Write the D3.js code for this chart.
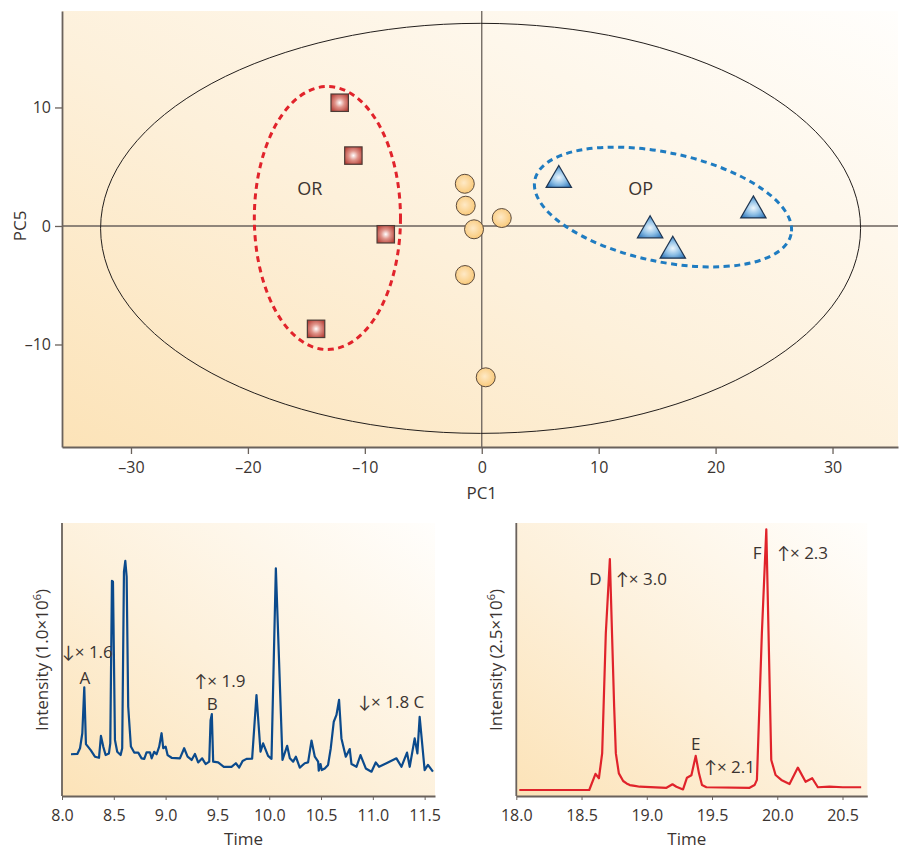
<!DOCTYPE html>
<html>
<head>
<meta charset="utf-8">
<script src="https://cdn.jsdelivr.net/npm/d3@7"></script>
<style>
  body { margin: 0; background: #fff; }
  svg text { font-family: "Open Sans", "Lato", sans-serif; fill: #3b3431; }
</style>
</head>
<body>
<script>
// Scores PCA (PC1, PC5)
const orPoints = [[-12.15, 10.4], [-10.98, 5.94], [-8.21, -0.70], [-14.17, -8.68]];
const qcPoints = [[-1.45, 3.56], [-1.37, 1.71], [-0.66, -0.28], [1.71, 0.67], [-1.43, -4.14], [0.34, -12.77]];
const opPoints = [[6.59, 4.18], [23.23, 1.61], [14.4, -0.07], [16.34, -1.79]];

// ellipses: centre, demi-axes (unités des données), rotation (degrés)
const bigEllipse = { cx: -0.1, cy: -0.2, rx: 32.5, ry: 17.3, angle: 0 };
const orEllipse = { cx: -13.2, cy: 0.67, rx: 6.25, ry: 11.1, angle: 0 };
const opEllipse = { cx: 15.5, cy: 1.6, rx: 11.2, ry: 4.6, angle: 12 };

const groupLabels = [{ text: 'OR', x: -14.7, y: 2.6 }, { text: 'OP', x: 13.6, y: 2.6 }];

const pcaXTicks = [-30, -20, -10, 0, 10, 20, 30];
const pcaYTicks = [-10, 0, 10];

// Chromatogramme 1 (temps, intensité relative)
const chromTime1 = [8.087, 8.148, 8.174, 8.196, 8.215, 8.231, 8.277, 8.318, 8.357, 8.376, 8.398, 8.421, 8.453, 8.466,
  8.482, 8.492, 8.511, 8.533, 8.566, 8.581, 8.598, 8.611, 8.624, 8.639, 8.665, 8.697, 8.736, 8.768, 8.794, 8.816,
  8.849, 8.865, 8.890, 8.913, 8.938, 8.961, 8.977, 9.000, 9.019, 9.058, 9.138, 9.179, 9.212, 9.251, 9.283, 9.314,
  9.353, 9.386, 9.421, 9.434, 9.446, 9.459, 9.507, 9.562, 9.636, 9.678, 9.710, 9.743, 9.781, 9.835, 9.877, 9.916,
  9.941, 9.989, 10.022, 10.064, 10.128, 10.173, 10.199, 10.231, 10.257, 10.295, 10.343, 10.375, 10.408, 10.440,
  10.472, 10.478, 10.495, 10.507, 10.536, 10.568, 10.594, 10.623, 10.649, 10.674, 10.697, 10.739, 10.777, 10.794,
  10.842, 10.881, 10.932, 10.987, 11.028, 11.060, 11.131, 11.228, 11.276, 11.330, 11.356, 11.404, 11.430, 11.452,
  11.500, 11.532, 11.580];
const chromInt1 = [15.3, 15.4, 17.5, 23.0, 39.8, 19.0, 16.8, 14.4, 14.0, 22.0, 18.1, 15.0, 15.6, 19.3,
  78.8, 78.5, 20.5, 16.2, 15.0, 17.5, 82.2, 86.1, 80.3, 32.7, 18.1, 15.9, 15.9, 13.8, 13.6, 16.0,
  16.0, 13.8, 16.2, 15.3, 18.1, 23.0, 17.5, 18.1, 15.0, 14.0, 13.8, 17.5, 14.4, 13.2, 15.4, 12.3,
  13.8, 11.7, 12.6, 27.8, 30.0, 12.6, 12.3, 10.7, 10.7, 12.0, 10.4, 12.8, 13.6, 13.7, 37.0, 16.2,
  19.3, 14.7, 13.6, 83.4, 13.2, 18.4, 13.8, 12.6, 14.4, 10.4, 12.0, 12.3, 20.3, 14.4,
  12.6, 9.3, 11.7, 9.5, 10.1, 11.4, 17.5, 27.2, 29.7, 35.2, 21.1, 14.4, 17.2, 11.7,
  10.7, 15.0, 10.1, 8.9, 12.3, 10.7, 12.0, 13.8, 10.7, 15.9, 10.7, 21.1, 15.6, 29.0,
  9.5, 11.4, 8.9];

// Chromatogramme 2
const chromTime2 = [18.023, 18.559, 18.607, 18.633, 18.658, 18.686, 18.717, 18.750, 18.763, 18.786, 18.819, 18.845,
  18.870, 18.908, 18.946, 19.151, 19.197, 19.227, 19.278, 19.308, 19.342, 19.375, 19.400, 19.423, 19.457, 19.788,
  19.826, 19.844, 19.882, 19.916, 19.954, 19.987, 20.031, 20.094, 20.158, 20.217, 20.268, 20.311, 20.400, 20.502, 20.643];
const chromInt2 = [2.2, 2.2, 8.1, 6.5, 15.6, 59.6, 86.8, 32.7, 15.6, 8.3, 5.5, 4.6,
  4.0, 3.7, 3.4, 3.0, 4.3, 3.4, 2.4, 6.7, 7.6, 14.7, 8.3, 4.0, 3.2, 3.0,
  4.0, 5.9, 59.6, 97.7, 13.2, 7.7, 5.9, 4.4, 10.4, 5.2, 6.5, 3.2, 3.4, 3.2, 3.2];

const chromXTicks1 = [8.0, 8.5, 9.0, 9.5, 10.0, 10.5, 11.0, 11.5];
const chromXTicks2 = [18.0, 18.5, 19.0, 19.5, 20.0, 20.5];

const peakLabels1 = [
  { text: '↓× 1.6', t: 8.0, v: 50.5, anchor: 'start' },
  { text: 'A', t: 8.22, v: 41.0, anchor: 'middle' },
  { text: '↑× 1.9', t: 9.28, v: 40.0, anchor: 'start' },
  { text: 'B', t: 9.45, v: 31.6, anchor: 'middle' },
  { text: '↓× 1.8 C', t: 10.86, v: 32.2, anchor: 'start' }
];
const peakLabels2 = [
  { text: 'D', t: 18.607, v: 77.3, anchor: 'middle' },
  { text: '↑× 3.0', t: 18.765, v: 77.3, anchor: 'start' },
  { text: 'F', t: 19.845, v: 86.7, anchor: 'middle' },
  { text: '↑× 2.3', t: 20.0, v: 86.7, anchor: 'start' },
  { text: 'E', t: 19.375, v: 16.8, anchor: 'middle' },
  { text: '↑× 2.1', t: 19.44, v: 8.5, anchor: 'start' }
];

const axisColor = '#6a625c';

const svg = d3.select('body').append('svg')
  .attr('width', 899)
  .attr('height', 850);

const defs = svg.append('defs');

// Dégradé de fond
const bg = defs.append('linearGradient')
  .attr('id', 'bg')
  .attr('x1', 0).attr('y1', 1).attr('x2', 1).attr('y2', 0);
bg.append('stop').attr('offset', '0%').attr('stop-color', '#fce3b8');
bg.append('stop').attr('offset', '45%').attr('stop-color', '#fdf0da');
bg.append('stop').attr('offset', '100%').attr('stop-color', '#fffefc');

const sq = defs.append('radialGradient').attr('id', 'sq').attr('cx', '50%').attr('cy', '50%').attr('r', '60%');
sq.append('stop').attr('offset', '0%').attr('stop-color', '#ffffff');
sq.append('stop').attr('offset', '45%').attr('stop-color', '#e0948a');
sq.append('stop').attr('offset', '100%').attr('stop-color', '#b8433b');

const ci = defs.append('radialGradient').attr('id', 'ci').attr('cx', '45%').attr('cy', '45%').attr('r', '60%');
ci.append('stop').attr('offset', '0%').attr('stop-color', '#fee9c6');
ci.append('stop').attr('offset', '100%').attr('stop-color', '#f9c774');

const tr = defs.append('radialGradient').attr('id', 'tr').attr('cx', '50%').attr('cy', '55%').attr('r', '60%');
tr.append('stop').attr('offset', '0%').attr('stop-color', '#eef7fd');
tr.append('stop').attr('offset', '50%').attr('stop-color', '#8fc0e6');
tr.append('stop').attr('offset', '100%').attr('stop-color', '#2c74b8');

// ---------- Graphe PCA ----------
const x = d3.scaleLinear().domain([-35.9, 35.6]).range([62, 898]);
const y = d3.scaleLinear().domain([-18.65, 18.14]).range([447, 11]);

const pca = svg.append('g');

pca.append('rect')
  .attr('x', x.range()[0]).attr('y', y.range()[1])
  .attr('width', x.range()[1] - x.range()[0])
  .attr('height', y.range()[0] - y.range()[1])
  .attr('fill', 'url(#bg)');

// lignes zéro
pca.append('line')
  .attr('x1', x.range()[0]).attr('x2', x.range()[1])
  .attr('y1', y(0)).attr('y2', y(0))
  .attr('stroke', axisColor).attr('stroke-width', 1.3);
pca.append('line')
  .attr('x1', x(0)).attr('x2', x(0))
  .attr('y1', y.range()[1]).attr('y2', y.range()[0])
  .attr('stroke', axisColor).attr('stroke-width', 1.3);

function drawEllipse(e, stroke, width, dash) {
  pca.append('ellipse')
    .attr('cx', 0).attr('cy', 0)
    .attr('rx', x(e.cx + e.rx) - x(e.cx))
    .attr('ry', y(e.cy - e.ry) - y(e.cy))
    .attr('transform', `translate(${x(e.cx)}, ${y(e.cy)}) rotate(${e.angle})`)
    .attr('fill', 'none')
    .attr('stroke', stroke)
    .attr('stroke-width', width)
    .attr('stroke-dasharray', dash);
}
drawEllipse(bigEllipse, '#231f1d', 1, null);
drawEllipse(orEllipse, '#e1232b', 3, '6,4.5');
drawEllipse(opEllipse, '#1f7cc1', 3, '6,4.5');

// Axes
const xAxis = pca.append('g')
  .attr('transform', `translate(0, ${y.range()[0]})`)
  .call(d3.axisBottom(x).tickValues(pcaXTicks).tickSize(7).tickSizeOuter(0).tickPadding(8)
    .tickFormat(d => d < 0 ? '–' + Math.abs(d) : d));
const yAxis = pca.append('g')
  .attr('transform', `translate(${x.range()[0]}, 0)`)
  .call(d3.axisLeft(y).tickValues(pcaYTicks).tickSize(7).tickSizeOuter(0).tickPadding(4)
    .tickFormat(d => d < 0 ? '–' + Math.abs(d) : d));

[xAxis, yAxis].forEach(a => {
  a.select('.domain').attr('stroke', axisColor).attr('stroke-width', 1.8);
  a.selectAll('.tick line').attr('stroke', axisColor).attr('stroke-width', 1.3);
  a.selectAll('.tick text').attr('font-size', 16).attr('fill', '#3b3431')
    .style('font-family', '"Open Sans", sans-serif');
});

pca.append('text')
  .attr('x', x(0)).attr('y', 499)
  .attr('text-anchor', 'middle')
  .attr('font-size', 17)
  .text('PC1');
pca.append('text')
  .attr('transform', `translate(26, ${y(0)}) rotate(-90)`)
  .attr('text-anchor', 'middle')
  .attr('font-size', 17)
  .text('PC5');

pca.selectAll('.grp')
  .data(groupLabels)
  .join('text')
  .attr('x', d => x(d.x)).attr('y', d => y(d.y))
  .attr('text-anchor', 'middle')
  .attr('font-size', 18)
  .text(d => d.text);

// Marqueurs
pca.selectAll('.qc')
  .data(qcPoints)
  .join('circle')
  .attr('cx', d => x(d[0])).attr('cy', d => y(d[1]))
  .attr('r', 9.5)
  .attr('fill', 'url(#ci)')
  .attr('stroke', '#5b4a3c').attr('stroke-width', 1);

pca.selectAll('.sq')
  .data(orPoints)
  .join('rect')
  .attr('x', d => x(d[0]) - 8.7).attr('y', d => y(d[1]) - 8.7)
  .attr('width', 17.4).attr('height', 17.4)
  .attr('fill', 'url(#sq)')
  .attr('stroke', '#4d3b36').attr('stroke-width', 1.2);

pca.selectAll('.tri')
  .data(opPoints)
  .join('path')
  .attr('d', 'M0,-11L12.7,11L-12.7,11Z')
  .attr('transform', d => `translate(${x(d[0])}, ${y(d[1])})`)
  .attr('fill', 'url(#tr)')
  .attr('stroke', '#1f3550').attr('stroke-width', 1.2);

// ---------- Chromatogrammes ----------
function chromatogram(opts) {
  const cx = d3.scaleLinear().domain(opts.domain).range(opts.range);
  const cy = d3.scaleLinear().domain([0, 100]).range([796, 523]);
  const g = svg.append('g');

  g.append('rect')
    .attr('x', opts.range[0]).attr('y', 523)
    .attr('width', opts.range[1] - opts.range[0]).attr('height', 796 - 523)
    .attr('fill', 'url(#bg)');

  const data = opts.time.map((t, i) => [t, opts.values[i]]);
  g.append('path')
    .datum(data)
    .attr('fill', 'none')
    .attr('stroke', opts.color)
    .attr('stroke-width', 2.2)
    .attr('stroke-linejoin', 'round')
    .attr('d', d3.line().x(d => cx(d[0])).y(d => cy(d[1])));

  const ax = g.append('g')
    .attr('transform', 'translate(0, 796)')
    .call(d3.axisBottom(cx).tickValues(opts.ticks).tickSize(4).tickSizeOuter(0).tickPadding(10)
      .tickFormat(d3.format('.1f')));
  ax.select('.domain').attr('stroke', axisColor).attr('stroke-width', 1.8);
  ax.selectAll('.tick line').attr('stroke', axisColor);
  ax.selectAll('.tick text').attr('font-size', 16).attr('fill', '#3b3431')
    .style('font-family', '"Open Sans", sans-serif');

  g.append('line')
    .attr('x1', opts.range[0]).attr('x2', opts.range[0])
    .attr('y1', 523).attr('y2', 796)
    .attr('stroke', axisColor).attr('stroke-width', 1.8);

  g.append('text')
    .attr('x', (opts.range[0] + opts.range[1]) / 2 - 5).attr('y', 845)
    .attr('text-anchor', 'middle')
    .attr('font-size', 17)
    .text('Time');

  const yl = g.append('text')
    .attr('transform', `translate(${opts.range[0] - 14}, 660) rotate(-90)`)
    .attr('text-anchor', 'middle')
    .attr('font-size', 17);
  yl.append('tspan').text(`Intensity (${opts.scale}×10`);
  yl.append('tspan').attr('font-size', 11).attr('dy', -7).text('6');
  yl.append('tspan').attr('dy', 7).text(')');

  g.selectAll('.lbl')
    .data(opts.labels)
    .join('text')
    .attr('x', d => cx(d.t)).attr('y', d => cy(d.v))
    .attr('text-anchor', d => d.anchor)
    .attr('font-size', 17)
    .text(d => d.text);
}

chromatogram({
  domain: [8, 11.6], range: [62, 435], time: chromTime1, values: chromInt1,
  ticks: chromXTicks1, color: '#0b4a8c', scale: '1.0', labels: peakLabels1
});
chromatogram({
  domain: [18, 20.69], range: [516.3, 867.3], time: chromTime2, values: chromInt2,
  ticks: chromXTicks2, color: '#e0232b', scale: '2.5', labels: peakLabels2
});
</script>
</body>
</html>
